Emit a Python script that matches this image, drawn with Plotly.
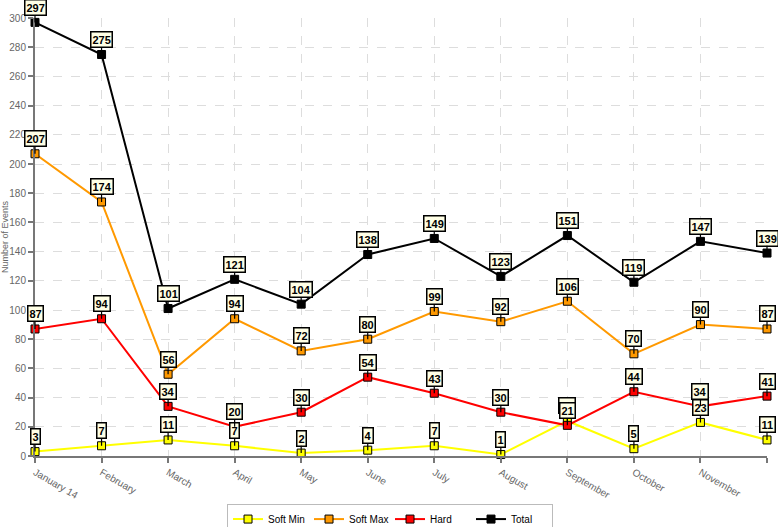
import plotly.graph_objects as go

months = ["January 14", "February", "March", "April", "May", "June", "July",
          "August", "September", "October", "November", "December"]
soft_min = [3, 7, 11, 7, 2, 4, 7, 1, 24, 5, 23, 11]
soft_max = [207, 174, 56, 94, 72, 80, 99, 92, 106, 70, 90, 87]
hard = [87, 94, 34, 20, 30, 54, 43, 30, 21, 44, 34, 41]
total = [297, 275, 101, 121, 104, 138, 149, 123, 151, 119, 147, 139]

series = [
    ("Soft Min", soft_min, "#ffff00"),
    ("Soft Max", soft_max, "#ff9900"),
    ("Hard", hard, "#ff0000"),
    ("Total", total, "#000000"),
]

fig = go.Figure()
annotations = []
for name, vals, color in series:
    fig.add_trace(go.Scatter(
        x=list(range(len(months))), y=vals, name=name, mode="lines+markers",
        line=dict(color=color, width=2),
        marker=dict(symbol="square", size=8, color=color, line=dict(color="black", width=1)),
        cliponaxis=False,
    ))
    for i, v in enumerate(vals):
        annotations.append(dict(
            x=i, y=v, xref="x", yref="y", text="<b>%d</b>" % v,
            showarrow=True, arrowhead=0, arrowwidth=1.2, arrowcolor="black",
            ax=0, ay=-15, standoff=0,
            bgcolor="#ffffe6", bordercolor="black", borderwidth=1.5, borderpad=1,
            font=dict(family="Liberation Sans, Arial", size=11, color="black"),
        ))

fig.update_layout(
    width=778, height=527,
    margin=dict(l=35, r=11, t=18, b=71, autoexpand=False),
    paper_bgcolor="white", plot_bgcolor="white",
    font=dict(family="Liberation Sans, Arial", size=11, color="#555"),
    annotations=annotations,
    showlegend=True,
    legend=dict(orientation="h", x=0.485, xanchor="center", y=-0.144, yanchor="middle",
                bordercolor="#bbb", borderwidth=1, font=dict(size=10, color="black"),
                entrywidth=36, entrywidthmode="pixels", itemwidth=30),
)
fig.update_xaxes(
    range=[0, 11], tickmode="array", tickvals=list(range(len(months))), ticktext=months,
    tickangle=30, showline=True, linecolor="#777", linewidth=2,
    ticks="outside", tickcolor="#777", ticklen=5, tickwidth=2,
    showgrid=True, gridcolor="#ddd", griddash="dash", gridwidth=1,
    tickfont=dict(size=10, color="#666"), zeroline=False, automargin=False,
)
fig.update_yaxes(
    range=[0, 300], dtick=20, showline=True, linecolor="#777", linewidth=2,
    ticks="outside", tickcolor="#777", ticklen=5, tickwidth=2,
    showgrid=True, gridcolor="#ddd", griddash="dash", gridwidth=1,
    tickfont=dict(size=10, color="#666"), zeroline=False, automargin=False,
    title=dict(text="Number of Events", font=dict(size=9, color="#666"), standoff=2),
)
fig.write_html("out.html", post_script="document.body.style.margin='0';",
               config={"displayModeBar": False})
